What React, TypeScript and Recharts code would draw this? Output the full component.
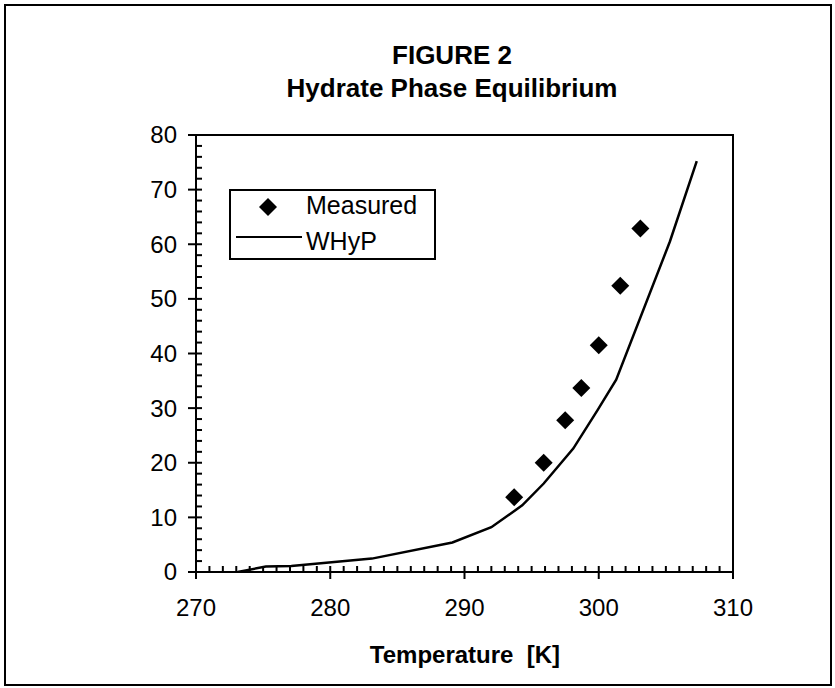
import { ComposedChart, Line, Scatter, XAxis, YAxis, ReferenceArea, Legend } from 'recharts';

// WHyP model curve (temperature K, pressure)
const whypTemp = [273.1, 275.2, 277.1, 283.1, 289.1, 292.0, 294.3, 295.9, 298.1, 299.9, 301.3, 305.3, 307.3];
const whypPress = [0.0, 1.0, 1.1, 2.45, 5.4, 8.2, 12.2, 16.2, 22.6, 29.6, 35.2, 60.5, 75.2];

// measured points
const measTemp = [293.7, 295.9, 297.5, 298.7, 300.0, 301.6, 303.1];
const measPress = [13.7, 20.0, 27.8, 33.7, 41.5, 52.4, 62.9];

const xMajor = [270, 280, 290, 300, 310];
const yMajor = [0, 10, 20, 30, 40, 50, 60, 70, 80];
const xTicks = Array.from({ length: 41 }, (_, i) => 270 + i);
const yTicks = Array.from({ length: 41 }, (_, i) => i * 2);

const whypData = whypTemp.map((t, i) => ({ t, p: whypPress[i] }));
const measData = measTemp.map((t, i) => ({ t, p: measPress[i] }));

const FONT = '"Liberation Sans", Arial, sans-serif';

const Diamond = (props: any) => {
  const { cx, cy } = props;
  const r = 9;
  return <polygon points={`${cx},${cy - r} ${cx + r},${cy} ${cx},${cy + r} ${cx - r},${cy}`} fill="#000" />;
};

const XTick = (props: any) => {
  const { x, y, payload } = props;
  const major = xMajor.includes(payload.value);
  return (
    <g>
      {major ? (
        <line x1={x} x2={x} y1={y - 6} y2={y + 7} stroke="#000" strokeWidth={2} />
      ) : (
        <line x1={x} x2={x} y1={y - 6} y2={y} stroke="#000" strokeWidth={2} />
      )}
      {major && (
        <text x={x} y={y + 44} textAnchor="middle" fontSize={24} fontFamily={FONT} fill="#000">
          {payload.value}
        </text>
      )}
    </g>
  );
};

const YTick = (props: any) => {
  const { x, y, payload } = props;
  const major = yMajor.includes(payload.value);
  return (
    <g>
      {major ? (
        <line x1={x - 8} x2={x + 6} y1={y} y2={y} stroke="#000" strokeWidth={2} />
      ) : (
        <line x1={x} x2={x + 6} y1={y} y2={y} stroke="#000" strokeWidth={2} />
      )}
      {major && (
        <text x={x - 19} y={y} dy="0.35em" textAnchor="end" fontSize={24} fontFamily={FONT} fill="#000">
          {payload.value}
        </text>
      )}
    </g>
  );
};

const LegendBox = () => (
  <div
    style={{
      position: 'absolute',
      left: 229,
      top: 189,
      width: 207,
      height: 71,
      border: '2px solid #000',
      boxSizing: 'border-box',
      background: '#fff',
      fontFamily: FONT,
      fontSize: 25,
    }}
  >
    <svg width={207} height={71} style={{ position: 'absolute', left: -2, top: -2 }}>
      <polygon points="39,9 48,18 39,27 30,18" fill="#000" />
      <line x1={7} x2={73} y1={48} y2={48} stroke="#000" strokeWidth={2} />
      <text x={77} y={25} fontSize={25} fontFamily={FONT}>Measured</text>
      <text x={77} y={61} fontSize={25} fontFamily={FONT}>WHyP</text>
    </svg>
  </div>
);

export default function App() {
  return (
    <div style={{ position: 'absolute', left: 0, top: 0, width: 835, height: 688, background: '#fff', fontFamily: FONT }}>
      <div
        style={{
          position: 'absolute',
          left: 4,
          top: 4,
          width: 828,
          height: 682,
          border: '2px solid #000',
          boxSizing: 'border-box',
        }}
      />
      <div style={{ position: 'absolute', left: 252, top: 42, width: 400, textAlign: 'center', fontSize: 26, lineHeight: '26px', fontWeight: 'bold' }}>
        FIGURE 2
      </div>
      <div style={{ position: 'absolute', left: 202, top: 75, width: 500, textAlign: 'center', fontSize: 26, lineHeight: '26px', fontWeight: 'bold' }}>
        Hydrate Phase Equilibrium
      </div>
      <div style={{ position: 'absolute', left: 265, top: 643, width: 400, textAlign: 'center', fontSize: 24, lineHeight: '24px', fontWeight: 'bold', whiteSpace: 'pre' }}>
        {'Temperature  [K]'}
      </div>
      <div style={{ position: 'absolute', left: 0, top: 0 }}>
        <ComposedChart width={835} height={688} margin={{ top: 135, right: 102, bottom: 56, left: 136 }}>
          <XAxis
            dataKey="t"
            type="number"
            domain={[270, 310]}
            ticks={xTicks}
            interval={0}
            tickLine={false}
            tickSize={0}
            tickMargin={0}
            height={60}
            stroke="#000"
            strokeWidth={2}
            tick={<XTick />}
            allowDataOverflow
          />
          <YAxis
            dataKey="p"
            type="number"
            domain={[0, 80]}
            ticks={yTicks}
            interval={0}
            tickLine={false}
            tickSize={0}
            tickMargin={0}
            width={60}
            stroke="#000"
            strokeWidth={2}
            tick={<YTick />}
            allowDataOverflow
          />
          <ReferenceArea x1={270} x2={310} y1={0} y2={80} fill="none" stroke="#000" strokeWidth={2} />
          <Line data={whypData} dataKey="p" type="linear" stroke="#000" strokeWidth={2.5} dot={false} isAnimationActive={false} name="WHyP" />
          <Scatter data={measData} dataKey="p" fill="#000" shape={<Diamond />} isAnimationActive={false} name="Measured" />
          <Legend layout="vertical" align="center" verticalAlign="middle" content={() => <LegendBox />} wrapperStyle={{ left: 0, top: 0, width: 0, height: 0 }} />
        </ComposedChart>
      </div>
    </div>
  );
}
